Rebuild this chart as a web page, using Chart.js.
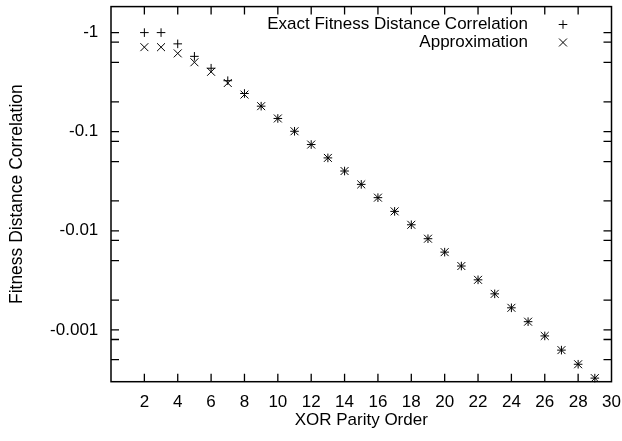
<!DOCTYPE html>
<html>
<head>
<meta charset="utf-8">
<script src="https://cdn.jsdelivr.net/npm/chart.js@4.4.1/dist/chart.umd.min.js"></script>
<style>
  html, body { margin: 0; padding: 0; background: #fff; }
  #contenedor { width: 622px; height: 441px; }
</style>
</head>
<body>
<div id="contenedor"><canvas id="graficoFdc"></canvas></div>
<script>
// Datos
const ordenes = [2, 3, 4, 5, 6, 7, 8, 9, 10, 11, 12, 13, 14, 15, 16, 17, 18, 19, 20, 21, 22, 23, 24, 25, 26, 27, 28, 29];
const fdcExacta = [-1, -1, -0.77, -0.576, -0.437, -0.327, -0.243, -0.181, -0.136, -0.101, -0.0742, -0.0544, -0.0401, -0.0294,
  -0.0216, -0.0157, -0.0115, -0.00832, -0.00609, -0.00441, -0.0032, -0.00231, -0.00167, -0.00121, -0.000869, -0.000625, -0.00045, -0.000326];
const fdcAprox = [-0.713, -0.713, -0.617, -0.502, -0.402, -0.31, -0.237, -0.181, -0.136, -0.101, -0.0742, -0.0544, -0.0401, -0.0294,
  -0.0216, -0.0157, -0.0115, -0.00832, -0.00609, -0.00441, -0.0032, -0.00231, -0.00167, -0.00121, -0.000869, -0.000625, -0.00045, -0.000326];

// Marcas del eje Y (valores negativos, escala log sobre el valor absoluto)
const ticksY = [-1, -0.1, -0.01, -0.001];
const etiquetasY = ['-1', '-0.1', '-0.01', '-0.001'];
const factoresMenores = [0.8, 0.5, 0.2];
const ticksX = [2, 4, 6, 8, 10, 12, 14, 16, 18, 20, 22, 24, 26, 28, 30];

const fuente = "'Liberation Sans', Arial, Helvetica, sans-serif";
Chart.defaults.font.family = fuente;
Chart.defaults.font.size = 17;
Chart.defaults.color = '#000';

const puntos = (ys) => ordenes.map((x, i) => ({ x: x, y: Math.abs(ys[i]) }));

// Marco y marcas hacia dentro, al estilo gnuplot, más la leyenda arriba a la derecha
const marcoGnuplot = {
  id: 'marcoGnuplot',
  afterDraw(chart) {
    const { ctx, chartArea: a, scales } = chart;
    const largo = 8;
    ctx.save();
    ctx.strokeStyle = '#000';
    ctx.lineWidth = 1.5;
    ctx.strokeRect(a.left, a.top, a.right - a.left, a.bottom - a.top);

    ctx.lineWidth = 1.3;
    ctx.beginPath();
    ticksX.forEach(v => {
      if (v >= 30) return;
      const px = scales.x.getPixelForValue(v);
      ctx.moveTo(px, a.bottom); ctx.lineTo(px, a.bottom - largo);
      ctx.moveTo(px, a.top); ctx.lineTo(px, a.top + largo);
    });
    const valoresY = [];
    ticksY.forEach(t => {
      const d = Math.abs(t);
      valoresY.push(d);
      factoresMenores.forEach(f => valoresY.push(d * f));
    });
    valoresY.forEach(v => {
      if (v < scales.y.min || v > scales.y.max) return;
      const py = scales.y.getPixelForValue(v);
      ctx.moveTo(a.left, py); ctx.lineTo(a.left + largo, py);
      ctx.moveTo(a.right, py); ctx.lineTo(a.right - largo, py);
    });
    ctx.stroke();

    // leyenda
    ctx.font = '17px ' + fuente;
    ctx.fillStyle = '#000';
    ctx.textAlign = 'right';
    ctx.textBaseline = 'middle';
    chart.data.datasets.forEach((ds, i) => {
      const y = 24.5 + 18 * i;
      ctx.fillText(ds.label, 528, y);
      ctx.lineWidth = 1;
      Chart.helpers.drawPoint(ctx, { pointStyle: ds.pointStyle, radius: ds.pointRadius, rotation: 0, borderWidth: 1 }, 563, y);
    });
    ctx.restore();
  }
};

new Chart(document.getElementById('graficoFdc').getContext('2d'), {
  type: 'scatter',
  data: {
    datasets: [{
      label: 'Exact Fitness Distance Correlation',
      data: puntos(fdcExacta),
      pointStyle: 'cross',
      pointRadius: 4.3,
      borderColor: '#000',
      borderWidth: 1,
      clip: false
    }, {
      label: 'Approximation',
      data: puntos(fdcAprox),
      pointStyle: 'crossRot',
      pointRadius: 5.6,
      borderColor: '#000',
      borderWidth: 1,
      clip: false
    }]
  },
  options: {
    responsive: true,
    maintainAspectRatio: false,
    animation: false,
    layout: { padding: { top: 6, right: 10.5, left: 0, bottom: 0 } },
    plugins: {
      legend: { display: false },
      tooltip: { enabled: false }
    },
    scales: {
      x: {
        type: 'linear',
        min: 0,
        max: 30,
        grid: { display: false, drawTicks: false },
        border: { display: false },
        afterBuildTicks: (s) => { s.ticks = ticksX.map(v => ({ value: v })); },
        ticks: { padding: 10.5, autoSkip: false, maxRotation: 0 },
        title: { display: true, text: 'XOR Parity Order', padding: { top: 0, bottom: 10 } },
        afterFit: (s) => { s.height = 59.3; s.paddingLeft = 0; s.paddingRight = 0; }
      },
      y: {
        type: 'logarithmic',
        min: 0.000326,
        max: 1.83,
        grid: { display: false, drawTicks: false },
        border: { display: false },
        afterBuildTicks: (s) => { s.ticks = ticksY.map(v => ({ value: Math.abs(v) })); },
        ticks: {
          padding: 12.7,
          autoSkip: false,
          callback: (v) => {
            const i = ticksY.findIndex(t => Math.abs(Math.abs(t) - v) < 1e-12);
            return i >= 0 ? etiquetasY[i] : '';
          }
        },
        title: { display: true, text: 'Fitness Distance Correlation', font: { size: 17.5 }, padding: { top: 7, bottom: 0 } },
        afterFit: (s) => { s.width = 111; s.paddingTop = 0; s.paddingBottom = 0; }
      }
    }
  },
  plugins: [marcoGnuplot]
});
</script>
</body>
</html>
